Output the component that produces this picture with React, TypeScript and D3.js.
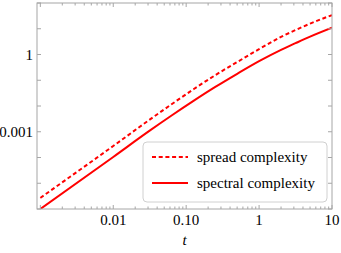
import * as d3 from "d3";

// (log-log)
const tValues = [0.001, 0.01, 0.0316, 0.0631, 0.126, 0.251, 0.501, 1.0, 2.0, 3.16, 5.01, 10];
const spectralValues = [1e-6, 1.05e-4, 1.1e-3, 4.27e-3, 0.0158, 0.055, 0.178, 0.55, 1.51, 2.75, 4.95, 11];
const spreadValues = [2.7e-6, 2.8e-4, 2.95e-3, 0.0117, 0.0447, 0.158, 0.51, 1.62, 4.8, 8.9, 15.8, 34];

const xTickLabels = [
    { v: 0.01, label: "0.01" },
    { v: 0.1, label: "0.10" },
    { v: 1, label: "1" },
    { v: 10, label: "10" },
];
const yTickLabels = [
    { v: 1, label: "1" },
    { v: 0.001, label: "0.001" },
];

const legendItems = [
    { label: "spread complexity", dashed: true },
    { label: "spectral complexity", dashed: false },
];

const W = 341;
const H = 253;
const left = 37;
const right = 332;
const top = 3;
const bottom = 209;
const red = "#ff0000";
const frameColor = "#a6a6a6";

export default function App() {
    const x = d3.scaleLog().domain([0.0009, 10]).range([left, right]);
    const y = d3.scaleLog().domain([1e-6, 100]).range([bottom, top]);

    const line = (vals: number[]) =>
        d3
            .line<number>()
            .x((_, i) => x(tValues[i]))
            .y((d) => y(d))
            .curve(d3.curveMonotoneX)(vals) || undefined;

    // x ticks: decades plus minor 2..9
    const xMajor = [0.001, 0.01, 0.1, 1, 10];
    const xMinor: number[] = [];
    for (const dec of [0.001, 0.01, 0.1, 1]) {
        for (let k = 2; k <= 9; k++) xMinor.push(dec * k);
    }
    const yMajor = d3.range(-6, 3).map((e) => Math.pow(10, e));

    const textStyle = { fontFamily: '"Liberation Serif"', fontSize: "15px" };

    return (
        <svg width={W} height={H} style={{ position: "absolute", left: 0, top: 0 }}>
            <rect x={0} y={0} width={W} height={H} fill="#fff" />
            <clipPath id="plotclip">
                <rect x={left} y={top} width={right - left} height={bottom - top} />
            </clipPath>
            <g clipPath="url(#plotclip)">
                <path d={line(spreadValues)} fill="none" stroke={red} strokeWidth={2} strokeDasharray="4,2.7" />
                <path d={line(spectralValues)} fill="none" stroke={red} strokeWidth={2} />
            </g>

            {/* ticks */}
            <g stroke={frameColor} strokeWidth={1}>
                {xMajor.map((v) => (
                    <g key={"xM" + v}>
                        <line x1={x(v)} x2={x(v)} y1={bottom} y2={bottom - 4} />
                        <line x1={x(v)} x2={x(v)} y1={top} y2={top + 4} />
                    </g>
                ))}
                {xMinor.map((v) => (
                    <g key={"xm" + v}>
                        <line x1={x(v)} x2={x(v)} y1={bottom} y2={bottom - 2.5} />
                        <line x1={x(v)} x2={x(v)} y1={top} y2={top + 2.5} />
                    </g>
                ))}
                {yMajor.map((v) => (
                    <g key={"yM" + v}>
                        <line x1={left} x2={left + 4} y1={y(v)} y2={y(v)} />
                        <line x1={right} x2={right - 4} y1={y(v)} y2={y(v)} />
                    </g>
                ))}
            </g>

            <rect
                x={left}
                y={top}
                width={right - left}
                height={bottom - top}
                fill="none"
                stroke={frameColor}
                strokeWidth={1}
            />

            {/* tick labels */}
            {xTickLabels.map((t) => (
                <text key={t.label} x={x(t.v)} y={bottom + 16} textAnchor="middle" fill="#000" style={textStyle}>
                    {t.label}
                </text>
            ))}
            {yTickLabels.map((t) => (
                <text key={t.label} x={left - 4} y={y(t.v) + 5} textAnchor="end" fill="#000" style={textStyle}>
                    {t.label}
                </text>
            ))}
            <text
                x={(left + right) / 2}
                y={bottom + 36}
                textAnchor="middle"
                fill="#000"
                style={{ ...textStyle, fontStyle: "italic" }}
            >
                t
            </text>

            {/* legend */}
            <rect x={143} y={142} width={184} height={60} rx={4} fill="#fff" stroke="#d0d0d0" strokeWidth={1} />
            {legendItems.map((item, i) => {
                const ly = 157 + i * 26;
                return (
                    <g key={item.label}>
                        <line
                            x1={152}
                            x2={188}
                            y1={ly}
                            y2={ly}
                            stroke={red}
                            strokeWidth={2}
                            strokeDasharray={item.dashed ? "4,2.7" : undefined}
                        />
                        <text x={197} y={ly + 5} fill="#000" style={textStyle}>
                            {item.label}
                        </text>
                    </g>
                );
            })}
        </svg>
    );
}
